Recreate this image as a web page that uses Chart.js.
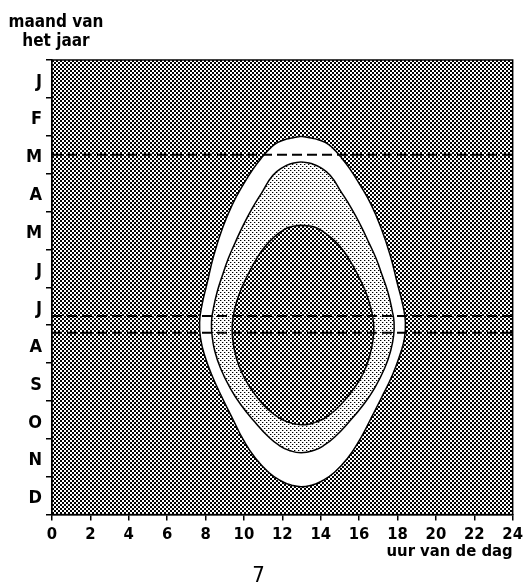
<!DOCTYPE html>
<html lang="nl">
<head>
<meta charset="UTF-8">
<title>Daglicht per maand</title>
<script src="https://cdn.jsdelivr.net/npm/chart.js"></script>
<style>
  body { margin: 0; background: #fff; }
  .chart-container { width: 527px; height: 585px; }
</style>
</head>
<body>
<div class="chart-container"><canvas id="dayChart"></canvas></div>
<script>
const monthLabels = ['J', 'F', 'M', 'A', 'M', 'J', 'J', 'A', 'S', 'O', 'N', 'D'];
const dashMonths = [2.5, 6.76, 7.2];

// each band: month levels (top -> bottom) with left and right edge in hours
const outerMonths = [2.016, 2.082, 2.174, 2.332, 2.544, 2.86, 3.282, 3.81, 4.443, 5.156, 5.894, 6.475, 6.923,
  7.346, 7.794, 8.322, 8.929, 9.509, 10.037, 10.512, 10.881, 11.119, 11.224, 11.264];
const outerLeft = [12.98, 12.29, 11.77, 11.36, 10.98, 10.5, 9.97, 9.4, 8.88, 8.43, 8.08, 7.81, 7.69,
  7.74, 7.95, 8.33, 8.88, 9.45, 9.98, 10.6, 11.28, 11.96, 12.48, 12.98];
const outerRight = [12.98, 13.71, 14.23, 14.64, 15.02, 15.5, 16.03, 16.62, 17.15, 17.62, 17.99, 18.28, 18.41,
  18.36, 18.12, 17.73, 17.15, 16.57, 16.02, 15.4, 14.72, 14.04, 13.52, 12.98];

const middleMonths = [2.689, 2.741, 2.834, 3.044, 3.486, 3.916, 4.364, 4.813, 5.235, 5.683, 6.132, 6.607, 6.923,
  7.266, 7.662, 8.137, 8.665, 9.113, 9.562, 9.931, 10.169, 10.301, 10.367];
const middleLeft = [12.98, 12.44, 12.03, 11.51, 10.95, 10.43, 9.96, 9.55, 9.19, 8.88, 8.6, 8.39, 8.31,
  8.34, 8.47, 8.78, 9.29, 9.86, 10.58, 11.25, 11.82, 12.34, 12.98];
const middleRight = [12.98, 13.56, 13.97, 14.49, 15.07, 15.6, 16.08, 16.5, 16.88, 17.2, 17.5, 17.72, 17.82,
  17.8, 17.65, 17.33, 16.8, 16.2, 15.46, 14.77, 14.18, 13.66, 12.98];

const innerMonths = [4.364, 4.404, 4.496, 4.654, 4.892, 5.235, 5.683, 6.132, 6.607, 7.003, 7.398, 7.794,
  8.243, 8.665, 9.034, 9.351, 9.536, 9.628];
const innerLeft = [12.98, 12.44, 12.03, 11.62, 11.15, 10.67, 10.19, 9.79, 9.5, 9.39, 9.42, 9.57,
  9.88, 10.35, 10.9, 11.56, 12.18, 12.98];
const innerRight = [12.98, 13.61, 14.02, 14.45, 14.95, 15.45, 15.94, 16.35, 16.64, 16.76, 16.72, 16.56,
  16.24, 15.74, 15.16, 14.5, 13.87, 12.98];

const FONT = "'DejaVu Sans Condensed', 'DejaVu Sans', sans-serif";

function makePattern(size, draw) {
  const c = document.createElement('canvas');
  c.width = size;
  c.height = size;
  draw(c.getContext('2d'));
  return document.getElementById('dayChart').getContext('2d').createPattern(c, 'repeat');
}

// dense checker = dark hatch
const darkPattern = makePattern(4, g => {
  g.fillStyle = '#fff';
  g.fillRect(0, 0, 4, 4);
  g.fillStyle = '#000';
  g.fillRect(0, 0, 2, 2);
  g.fillRect(2, 2, 2, 2);
});
// sparse dots = light raster
const dotPattern = makePattern(4, g => {
  g.fillStyle = '#fff';
  g.fillRect(0, 0, 4, 4);
  g.fillStyle = '#000';
  g.fillRect(0, 0, 1, 1);
  g.fillRect(2, 2, 1, 1);
  g.fillStyle = '#aaa';
  g.fillRect(1, 0, 1, 1);
  g.fillRect(3, 2, 1, 1);
});

// closed outline: down the left edge, back up the right edge
function loop(months, left, right) {
  const down = months.map((m, i) => ({ x: left[i], y: m }));
  const up = months.map((m, i) => ({ x: right[i], y: m })).reverse().slice(1);
  return down.concat(up);
}

function shape(months, left, right, fillStyle) {
  return {
    data: loop(months, left, right),
    showLine: true,
    fill: 'shape',
    backgroundColor: fillStyle,
    borderColor: '#000',
    borderWidth: 1.5,
    tension: 0.5,
    pointRadius: 0
  };
}

const dashSets = dashMonths.map(m => ({
  data: [{ x: 0, y: m }, { x: 24, y: m }],
  showLine: true,
  fill: false,
  borderColor: '#000',
  borderWidth: 2,
  borderDash: [10, 5],
  pointRadius: 0
}));

// hatched background + frame + header text
const frame = {
  id: 'frame',
  beforeDatasetsDraw(chart) {
    const { ctx, chartArea: a } = chart;
    ctx.save();
    ctx.fillStyle = darkPattern;
    ctx.fillRect(a.left, a.top, a.right - a.left, a.bottom - a.top);
    ctx.restore();
  },
  afterDraw(chart) {
    const { ctx, chartArea: a } = chart;
    ctx.save();
    ctx.strokeStyle = '#000';
    ctx.lineWidth = 1.5;
    ctx.strokeRect(a.left, a.top, a.right - a.left, a.bottom - a.top);
    ctx.fillStyle = '#000';
    ctx.font = 'bold 17px ' + FONT;
    ctx.textAlign = 'center';
    ctx.textBaseline = 'alphabetic';
    ctx.fillText('maand van', 56, 27);
    ctx.fillText('het jaar', 56, 46);
    ctx.restore();
  }
};

new Chart(document.getElementById('dayChart'), {
  type: 'scatter',
  data: {
    datasets: [...dashSets,
      shape(innerMonths, innerLeft, innerRight, darkPattern),
      shape(middleMonths, middleLeft, middleRight, dotPattern),
      shape(outerMonths, outerLeft, outerRight, '#fff')]
  },
  options: {
    responsive: true,
    maintainAspectRatio: false,
    animation: false,
    events: [],
    layout: { padding: { top: 60, right: 10, left: 0, bottom: 0 } },
    scales: {
      x: {
        type: 'linear',
        min: 0,
        max: 24,
        afterFit(scale) { scale.height = 52.8; },
        ticks: { stepSize: 2, color: '#000', padding: 4, font: { family: FONT, size: 16.5, weight: 'bold' } },
        grid: { drawOnChartArea: false, color: '#000', lineWidth: 1.5, tickLength: 6 },
        border: { color: '#000', width: 1.5 },
        title: {
          display: true,
          text: 'uur van de dag',
          align: 'end',
          color: '#000',
          padding: { top: 0, bottom: 6 },
          font: { family: FONT, size: 16.5, weight: 'bold' }
        }
      },
      y: {
        type: 'linear',
        reverse: true,
        min: 0,
        max: 12,
        afterFit(scale) { scale.width = 52; },
        ticks: {
          stepSize: 0.5,
          autoSkip: false,
          color: '#000',
          padding: 4,
          labelOffset: 3,
          font: { family: FONT, size: 18, weight: 'bold' },
          callback: v => (v % 1 === 0.5 ? monthLabels[Math.floor(v)] : '')
        },
        grid: {
          drawOnChartArea: false,
          lineWidth: 1.5,
          tickLength: 6,
          tickColor: c => (c.tick && c.tick.value % 1 === 0 ? '#000' : 'rgba(0,0,0,0)')
        },
        border: { color: '#000', width: 1.5 }
      }
    },
    plugins: {
      legend: { display: false },
      tooltip: { enabled: false },
      title: {
        display: true,
        position: 'bottom',
        text: '7',
        color: '#000',
        padding: 0,
        font: { family: FONT, size: 22, weight: 'normal', lineHeight: 0.8 }
      }
    }
  },
  plugins: [frame]
});
</script>
</body>
</html>
